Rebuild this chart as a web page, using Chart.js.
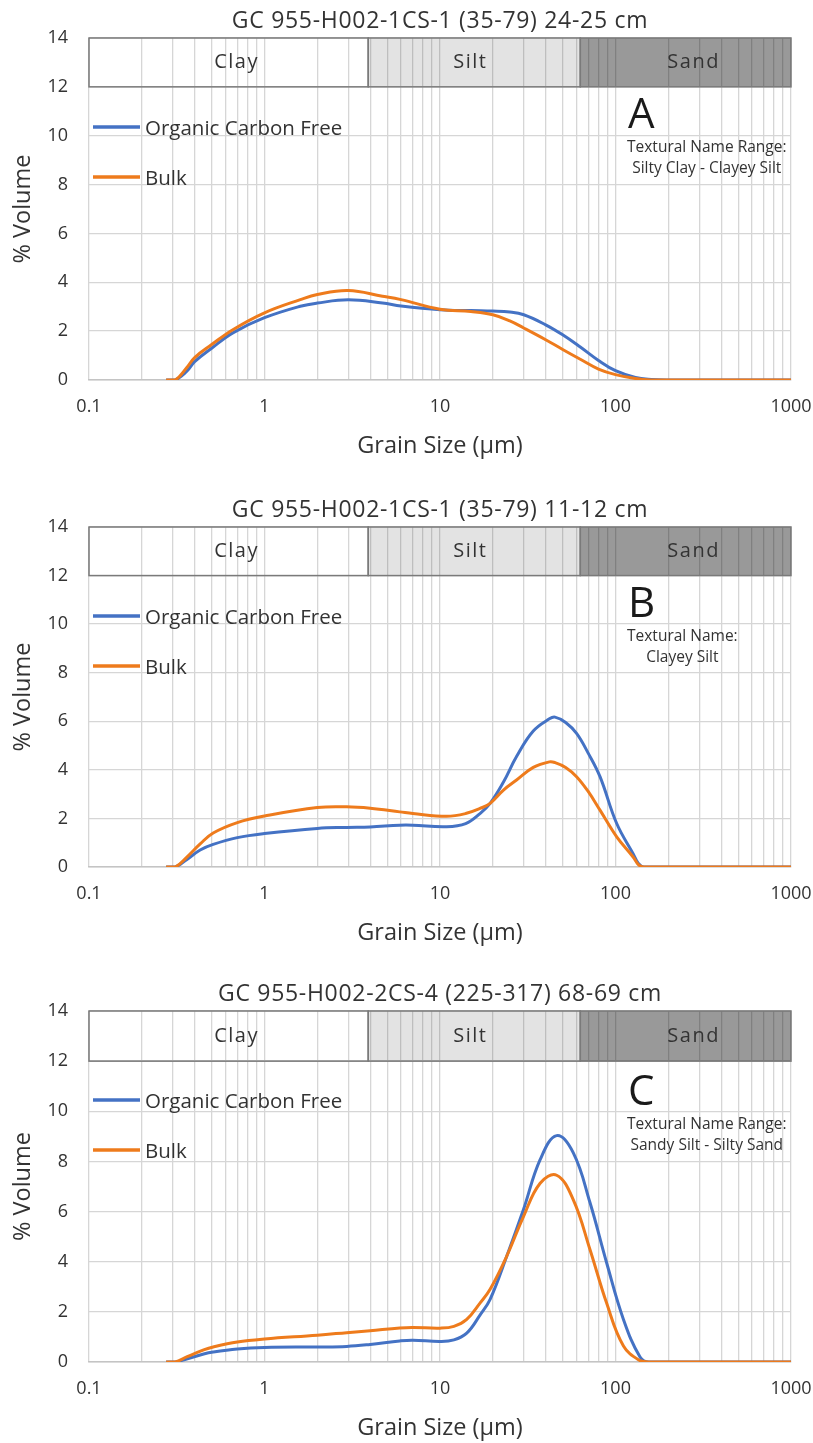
<!DOCTYPE html>
<html>
<head>
<meta charset="utf-8">
<script src="https://cdn.jsdelivr.net/npm/chart.js@4.4.1/dist/chart.umd.min.js"></script>
<style>
  body { margin: 0; background: #fff; }
  #page { position: relative; width: 813px; height: 1443px; }
  canvas { position: absolute; left: 0; }
</style>
</head>
<body>
<div id="page">
  <canvas id="chartA"></canvas>
  <canvas id="chartB"></canvas>
  <canvas id="chartC"></canvas>
</div>
<script>
// Wentworth classes shown in the band at the top of each plot
const bandNames = ['Clay', 'Silt', 'Sand'];
const bandEdges = [0.1, 3.9, 63, 1000];

const xMajors = [0.1, 1, 10, 100, 1000];
const xTickLabels = ['0.1', '1', '10', '100', '1000'];
const yTicks = [0, 2, 4, 6, 8, 10, 12, 14];

const seriesNames = ['Organic Carbon Free', 'Bulk'];

// A: 24-25 cm
const titleA = 'GC 955-H002-1CS-1 (35-79) 24-25 cm';
const textureA = ['Textural Name Range:', 'Silty Clay - Clayey Silt'];
const sizeA = [0.275, 0.31, 0.36, 0.4, 0.5, 0.66, 1, 1.6, 2, 3, 4.7, 6, 10, 15, 20, 25, 30, 40, 50, 63, 80, 100, 130, 160, 200, 1000];
const ocfA  = [0, 0, 0.35, 0.75, 1.3, 1.93, 2.55, 3.02, 3.15, 3.28, 3.15, 3.03, 2.88, 2.84, 2.82, 2.78, 2.67, 2.26, 1.85, 1.35, 0.8, 0.38, 0.1, 0.02, 0, 0];
const bulkA = [0, 0, 0.5, 0.92, 1.45, 2.06, 2.75, 3.29, 3.5, 3.66, 3.43, 3.29, 2.9, 2.8, 2.67, 2.42, 2.13, 1.65, 1.25, 0.85, 0.45, 0.22, 0.06, 0, 0, 0];

// B: 11-12 cm
const titleB = 'GC 955-H002-1CS-1 (35-79) 11-12 cm';
const textureB = ['Textural Name:', 'Clayey Silt'];
const sizeB = [0.275, 0.31, 0.36, 0.43, 0.51, 0.7, 1, 2, 2.94, 4, 5.9, 7, 10.9, 14, 16.9, 19.3, 23, 27.3, 34, 42, 45.2, 52, 60, 70, 81.6, 101.6, 126, 135, 145, 1000];
const ocfB  = [0, 0, 0.3, 0.7, 0.93, 1.21, 1.38, 1.59, 1.63, 1.65, 1.72, 1.72, 1.66, 1.79, 2.2, 2.62, 3.5, 4.55, 5.6, 6.1, 6.17, 5.95, 5.5, 4.68, 3.72, 1.79, 0.55, 0.15, 0, 0];
const bulkB = [0, 0, 0.4, 0.95, 1.4, 1.83, 2.1, 2.45, 2.48, 2.42, 2.27, 2.2, 2.09, 2.2, 2.41, 2.62, 3.17, 3.58, 4.1, 4.33, 4.3, 4.1, 3.72, 3.1, 2.34, 1.24, 0.41, 0.1, 0, 0];

// C: 68-69 cm
const titleC = 'GC 955-H002-2CS-4 (225-317) 68-69 cm';
const textureC = ['Textural Name Range:', 'Sandy Silt - Silty Sand'];
const sizeC = [0.275, 0.31, 0.36, 0.45, 0.51, 0.7, 1, 2, 2.94, 4, 5.9, 7, 10, 12, 14.2, 16.9, 19.3, 24, 29.9, 37.2, 46.2, 57.5, 71.6, 89, 111, 138, 155, 1000];
const ocfC  = [0, 0, 0.12, 0.32, 0.4, 0.52, 0.58, 0.6, 0.62, 0.7, 0.84, 0.87, 0.82, 0.88, 1.15, 1.87, 2.5, 4.22, 6.08, 8.07, 9.03, 8.34, 6.35, 3.96, 1.7, 0.2, 0, 0];
const bulkC = [0, 0, 0.2, 0.48, 0.6, 0.8, 0.92, 1.07, 1.17, 1.25, 1.36, 1.38, 1.35, 1.42, 1.7, 2.35, 2.9, 4.22, 5.8, 7.13, 7.45, 6.47, 4.48, 2.35, 0.64, 0.05, 0, 0];

const BLUE = '#4472C4';
const ORANGE = '#EE7B1C';
const FONT = 'Open Sans';
const TEXT = '#333333';
const GRID = '#d6d6d6';

// log grid lines at 1..9 of every decade, labels only on powers of ten
const xGrid = [];
xMajors.slice(0, -1).forEach(d => {
  for (let k = 1; k <= 9; k++) xGrid.push(Number((k * d).toPrecision(3)));
});
xGrid.push(xMajors[xMajors.length - 1]);

function toPoints(xs, ys) {
  return xs.map((x, i) => ({x: x, y: ys[i]}));
}

const panelDecor = {
  id: 'panelDecor',
  beforeDatasetsDraw(chart, args, opts) {
    const ctx = chart.ctx;
    const xs = chart.scales.x, ys = chart.scales.y;
    const yTop = ys.getPixelForValue(14), yBot = ys.getPixelForValue(12);
    const fills = ['rgba(0,0,0,0)', 'rgba(0,0,0,0.11)', 'rgba(0,0,0,0.40)'];
    const nudge = [8, -4, 8];
    ctx.save();
    for (let i = 0; i < bandNames.length; i++) {
      const x0 = xs.getPixelForValue(bandEdges[i]);
      const x1 = xs.getPixelForValue(bandEdges[i + 1]);
      ctx.fillStyle = fills[i];
      ctx.fillRect(x0, yTop, x1 - x0, yBot - yTop);
      ctx.strokeStyle = '#7a7a7a';
      ctx.lineWidth = 1.5;
      ctx.strokeRect(x0, yTop, x1 - x0, yBot - yTop);
      ctx.fillStyle = TEXT;
      ctx.font = '20px "' + FONT + '"';
      ctx.letterSpacing = '1.5px';
      ctx.textAlign = 'center';
      ctx.textBaseline = 'middle';
      ctx.fillText(bandNames[i], (x0 + x1) / 2 + nudge[i], (yTop + yBot) / 2);
    }
    ctx.restore();
  },
  afterDraw(chart, args, opts) {
    const ctx = chart.ctx;
    const area = chart.chartArea;
    ctx.save();
    ctx.fillStyle = TEXT;

    // title
    ctx.font = '23px "' + FONT + '"';
    ctx.letterSpacing = '0.7px';
    ctx.textAlign = 'center';
    ctx.textBaseline = 'alphabetic';
    ctx.fillText(opts.title, (area.left + area.right) / 2, area.top - 10);
    ctx.letterSpacing = '0px';

    // legend inside the plot
    const colors = [BLUE, ORANGE];
    ctx.font = '20.5px "' + FONT + '"';
    ctx.textAlign = 'left';
    seriesNames.forEach((name, i) => {
      const y = area.top + 89 + i * 50;
      ctx.strokeStyle = colors[i];
      ctx.lineWidth = 3.5;
      ctx.beginPath();
      ctx.moveTo(area.left + 4, y);
      ctx.lineTo(area.left + 51, y);
      ctx.stroke();
      ctx.fillStyle = TEXT;
      ctx.fillText(name, area.left + 56, y + 8);
    });

    // panel letter and textural name
    ctx.fillStyle = '#1a1a1a';
    ctx.font = '42px "' + FONT + '"';
    ctx.fillText(opts.letter, 628, area.top + opts.letterDy);
    ctx.font = '15.5px "' + FONT + '"';
    ctx.fillStyle = TEXT;
    const w = Math.max(...opts.texture.map(t => ctx.measureText(t).width));
    ctx.textAlign = 'center';
    opts.texture.forEach((t, i) => {
      ctx.fillText(t, 627 + w / 2, area.top + opts.letterDy + 24 + i * 21);
    });
    ctx.restore();
  }
};

function makePanel(id, p) {
  const canvas = document.getElementById(id);
  canvas.width = 813;
  canvas.height = p.height;
  canvas.style.top = p.top + 'px';
  const titleSize = 23.5;
  const xTitleLine = titleSize * 1.2;
  const line = {pointRadius: 0, borderWidth: 3, tension: 0.4, fill: false};
  new Chart(canvas, {
    type: 'line',
    data: {
      datasets: [
        Object.assign({label: seriesNames[0], data: toPoints(p.size, p.ocf), borderColor: BLUE, order: 1}, line),
        Object.assign({label: seriesNames[1], data: toPoints(p.size, p.bulk), borderColor: ORANGE, order: 0}, line)
      ]
    },
    options: {
      responsive: false,
      animation: false,
      devicePixelRatio: 1,
      layout: {padding: {top: p.plotTop, left: 0, right: 22, bottom: 0}},
      plugins: {
        legend: {display: false},
        tooltip: {enabled: false},
        panelDecor: {title: p.title, letter: p.letter, texture: p.texture, letterDy: p.letterDy}
      },
      scales: {
        x: {
          type: 'logarithmic',
          min: 0.1,
          max: 1000,
          afterBuildTicks: s => { s.ticks = xGrid.map(v => ({value: v})); },
          afterFit: s => {
            s.height = p.height - p.plotBottom;
            s.paddingLeft = 0;
            s.paddingRight = 0;
          },
          ticks: {
            autoSkip: false,
            maxRotation: 0,
            padding: 16,
            color: TEXT,
            font: {family: FONT, size: 18},
            callback: v => {
              const i = xMajors.indexOf(v);
              return i >= 0 ? xTickLabels[i] : '';
            }
          },
          grid: {color: GRID, lineWidth: 1.3, drawTicks: false},
          border: {color: '#c4c4c4', width: 1.5},
          title: {
            display: true,
            text: 'Grain Size (µm)',
            color: TEXT,
            font: {family: FONT, size: titleSize},
            padding: {top: 0, bottom: p.height - p.plotBottom - 66 - xTitleLine / 2}
          }
        },
        y: {
          min: 0,
          max: 14,
          afterBuildTicks: s => { s.ticks = yTicks.map(v => ({value: v})); },
          afterFit: s => { s.width = 89; },
          ticks: {padding: 21, color: TEXT, font: {family: FONT, size: 18}},
          grid: {color: GRID, lineWidth: 1.3, drawTicks: false},
          border: {display: false},
          title: {
            display: true,
            text: '% Volume',
            color: TEXT,
            font: {family: FONT, size: titleSize},
            padding: {top: 9, bottom: 0}
          }
        }
      }
    },
    plugins: [panelDecor]
  });
}

makePanel('chartA', {top: 0, height: 470, plotTop: 38, plotBottom: 380, title: titleA, letter: 'A',
  texture: textureA, letterDy: 90, size: sizeA, ocf: ocfA, bulk: bulkA});
makePanel('chartB', {top: 470, height: 487, plotTop: 57, plotBottom: 397, title: titleB, letter: 'B',
  texture: textureB, letterDy: 90, size: sizeB, ocf: ocfB, bulk: bulkB});
makePanel('chartC', {top: 957, height: 486, plotTop: 54, plotBottom: 405, title: titleC, letter: 'C',
  texture: textureC, letterDy: 94, size: sizeC, ocf: ocfC, bulk: bulkC});
</script>
</body>
</html>
